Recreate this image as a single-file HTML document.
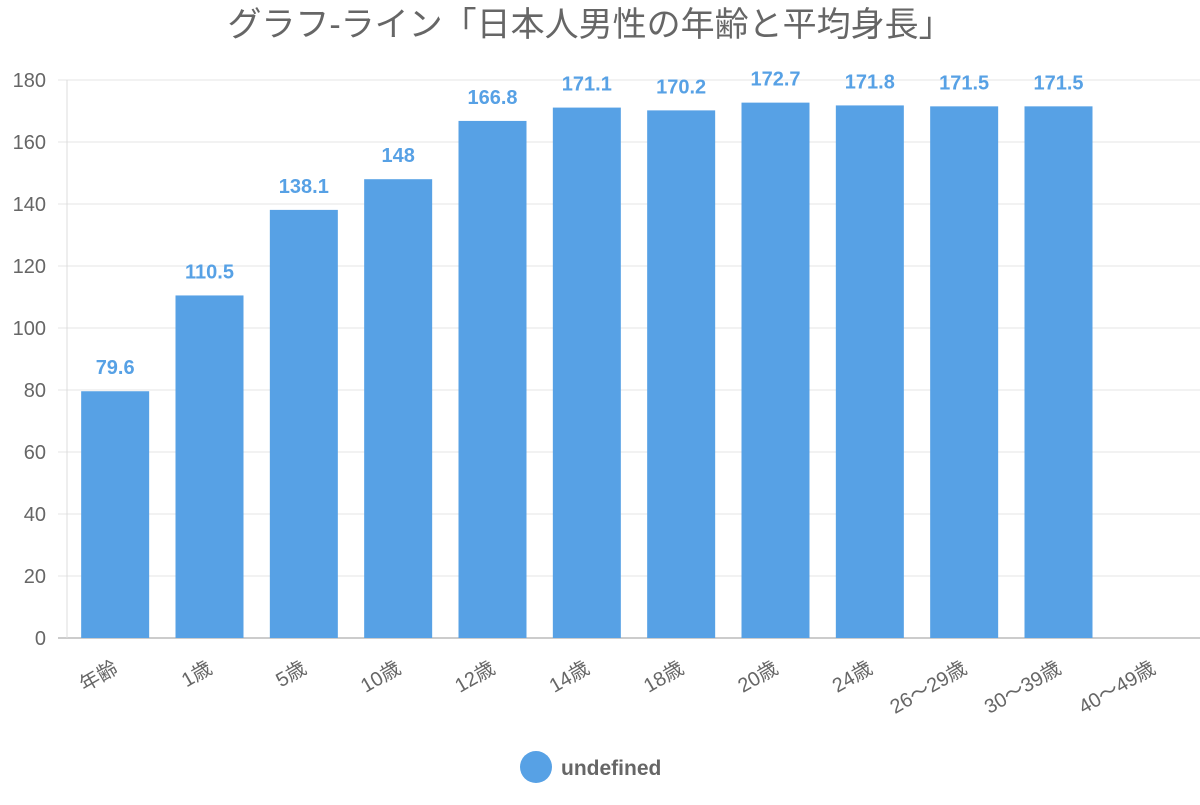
<!DOCTYPE html>
<html><head><meta charset="utf-8"><style>
html,body{margin:0;padding:0;background:#fff;}
svg text{font-family:"Liberation Sans","Noto Sans CJK JP",sans-serif;}
</style></head><body>
<svg id="chart" width="1200" height="800" xmlns="http://www.w3.org/2000/svg">
<text x="590" y="36" text-anchor="middle" font-size="34" fill="#666">グラフ-ライン「日本人男性の年齢と平均身長」</text>
<g id="grid"></g><g id="bars"></g><g id="labels"></g>
<g>
<circle cx="536" cy="767" r="16" fill="#57a1e5"/>
<text x="561" y="775" font-size="21" font-weight="bold" fill="#666">undefined</text>
</g>
</svg>
<script>
const categories=["年齢","1歳","5歳","10歳","12歳","14歳","18歳","20歳","24歳","26〜29歳","30〜39歳","40〜49歳"];
const values=[79.6,110.5,138.1,148,166.8,171.1,170.2,172.7,171.8,171.5,171.5,null];
const yTicks=[0,20,40,60,80,100,120,140,160,180];
const NS="http://www.w3.org/2000/svg";
const x0=68,x1=1200,yTop=80,yBot=638,yMax=180;
const bw=(x1-x0)/categories.length;
const y=v=>yBot-(v/yMax)*(yBot-yTop);
const xc=i=>x0+bw*(i+0.5);
function mk(t,a,p){const e=document.createElementNS(NS,t);for(const k in a)e.setAttribute(k,a[k]);p.appendChild(e);return e;}
const grid=document.getElementById('grid'),bars=document.getElementById('bars'),labels=document.getElementById('labels');
yTicks.forEach(t=>{
 const l=mk('line',{x1:58,x2:1200,y1:y(t),y2:y(t),stroke:t===0?'#ccc':'#e4e4e4','stroke-width':t===0?2:1},grid);
 
 
 const tx=mk('text',{x:46,y:y(t)+7,'text-anchor':'end','font-size':20,fill:'#666'},grid);
 tx.textContent=t;
 
 
});
const ax=mk('line',{x1:67,x2:67,y1:yTop,y2:yBot,stroke:'#ddd','stroke-width':1},grid);


categories.forEach((c,i)=>{
 const v=values[i];
 if(v!==null){
  const r=mk('rect',{x:xc(i)-34,y:y(v),width:68,height:yBot-y(v),fill:'#57a1e5'},bars);
  
  
  const vt=mk('text',{x:xc(i),y:y(v)-17,'text-anchor':'middle','font-size':20,'font-weight':'bold',fill:'#57a1e5'},labels);
  vt.textContent=v;
  
  
 }
 const lt=mk('text',{x:xc(i)+4,y:672,'text-anchor':'end','font-size':20,fill:'#666',transform:`rotate(-30 ${xc(i)+4} 672)`},labels);
 lt.textContent=c;
 
 
});
</script>
</body></html>
